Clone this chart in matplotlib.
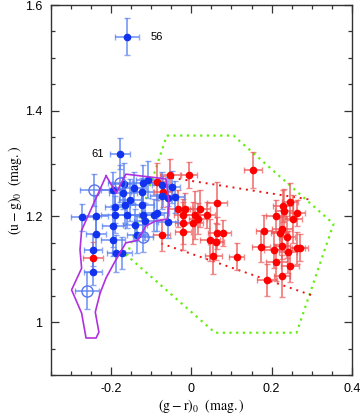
import matplotlib
matplotlib.use("Agg")
import matplotlib.pyplot as plt
from matplotlib.ticker import MultipleLocator

plt.rcParams['mathtext.fontset'] = 'stix'

# Blue filled points
bx = [-0.160, -0.178, -0.272, -0.237, -0.237, -0.245, -0.194, -0.190, -0.190, -0.194, -0.194, -0.187,
      -0.173, -0.168, -0.169, -0.165, -0.161, -0.153, -0.140, -0.136, -0.143, -0.123, -0.119, -0.123,
      -0.119, -0.115, -0.093, -0.107, -0.074, -0.049, -0.057, -0.041, -0.086, -0.057, -0.074, -0.245]
by = [1.540, 1.319, 1.198, 1.201, 1.167, 1.095, 1.250, 1.218, 1.203, 1.182, 1.155, 1.130,
      1.131, 1.261, 1.244, 1.222, 1.203, 1.231, 1.184, 1.165, 1.254, 1.247, 1.263, 1.222,
      1.203, 1.191, 1.203, 1.269, 1.259, 1.256, 1.234, 1.237, 1.207, 1.190, 1.239, 1.137]
bxerr = [0.030, 0.025, 0.028, 0.030, 0.025, 0.022, 0.030, 0.025, 0.035, 0.028, 0.030, 0.022,
         0.025, 0.030, 0.035, 0.025, 0.030, 0.028, 0.030, 0.025, 0.030, 0.028, 0.025, 0.030,
         0.035, 0.028, 0.025, 0.030, 0.025, 0.020, 0.025, 0.022, 0.030, 0.025, 0.028, 0.022]
byerr = [0.035, 0.030, 0.025, 0.040, 0.030, 0.025, 0.035, 0.030, 0.035, 0.040, 0.030, 0.035,
         0.030, 0.040, 0.030, 0.035, 0.025, 0.040, 0.030, 0.035, 0.030, 0.025, 0.035, 0.030,
         0.040, 0.035, 0.030, 0.035, 0.025, 0.030, 0.040, 0.030, 0.035, 0.030, 0.025, 0.030]

# Blue open circles
ox = [-0.241, -0.177, -0.121, -0.260]
oy = [1.250, 1.263, 1.162, 1.059]
oxerr = [0.035, 0.030, 0.025, 0.030]
oyerr = [0.030, 0.035, 0.030, 0.035]

# Red points
rx = [-0.244, -0.053, -0.005, -0.086, -0.070, 0.154, 0.063, -0.016, 0.022, -0.020, 0.009, 0.038,
      0.017, 0.005, -0.020, 0.063, 0.078, 0.047, 0.062, 0.055, 0.113, -0.074, -0.032, -0.020,
      0.246, 0.229, 0.231, 0.264, 0.211, 0.254, 0.181, 0.225, 0.221, 0.239, 0.173, 0.206,
      0.225, 0.241, 0.264, 0.270, 0.212, 0.246, 0.225, 0.189]
ry = [1.121, 1.278, 1.278, 1.266, 1.247, 1.288, 1.225, 1.215, 1.215, 1.203, 1.203, 1.203,
      1.196, 1.187, 1.171, 1.168, 1.169, 1.155, 1.152, 1.125, 1.124, 1.165, 1.215, 1.187,
      1.228, 1.220, 1.211, 1.206, 1.201, 1.195, 1.173, 1.177, 1.169, 1.161, 1.143, 1.137,
      1.145, 1.133, 1.140, 1.141, 1.113, 1.106, 1.087, 1.080]
rxerr = [0.025, 0.025, 0.020, 0.020, 0.022, 0.022, 0.025, 0.020, 0.025, 0.022, 0.025, 0.020,
         0.022, 0.025, 0.020, 0.022, 0.020, 0.025, 0.020, 0.022, 0.018, 0.022, 0.025, 0.020,
         0.020, 0.025, 0.022, 0.020, 0.025, 0.022, 0.020, 0.025, 0.022, 0.020, 0.022, 0.025,
         0.020, 0.022, 0.018, 0.020, 0.025, 0.022, 0.020, 0.025]
ryerr = [0.030, 0.030, 0.025, 0.035, 0.030, 0.034, 0.040, 0.030, 0.035, 0.030, 0.045, 0.025,
         0.030, 0.040, 0.035, 0.030, 0.025, 0.040, 0.035, 0.033, 0.025, 0.030, 0.035, 0.040,
         0.035, 0.030, 0.040, 0.025, 0.030, 0.045, 0.030, 0.035, 0.030, 0.040, 0.030, 0.035,
         0.025, 0.040, 0.030, 0.025, 0.035, 0.030, 0.040, 0.030]

# Purple polygon
px = [-0.212, -0.187, -0.163, -0.063, -0.055, -0.060, -0.090, -0.113, -0.133, -0.163, -0.192,
      -0.212, -0.227, -0.239, -0.230, -0.237, -0.262, -0.273, -0.298, -0.273, -0.277, -0.273, -0.212]
py = [1.277, 1.244, 1.280, 1.271, 1.222, 1.195, 1.191, 1.182, 1.155, 1.150, 1.112,
      1.084, 1.055, 1.019, 0.981, 0.970, 0.970, 1.017, 1.061, 1.102, 1.137, 1.174, 1.277]

# Green dotted polygon
gx = [-0.061, 0.105, 0.354, 0.262, 0.059, -0.160, -0.061]
gy = [1.353, 1.353, 1.186, 0.980, 0.980, 1.126, 1.353]

# Red dotted lines
rl1x = [-0.048, 0.303]
rl1y = [1.273, 1.231]
rl2x = [-0.075, 0.303]
rl2y = [1.149, 1.050]

labels = [("56", -0.160, 1.540), ("61", -0.178, 1.319)]

fig = plt.figure(figsize=(3.6, 4.17), dpi=100)
ax = fig.add_axes([0.1408, 0.1007, 0.8370, 0.8873])

ax.plot(gx, gy, linestyle=(0, (1, 2)), color='#66ee11', lw=1.6, zorder=1)
ax.plot(rl1x, rl1y, linestyle=(0, (1, 2.5)), color='#ee1111', lw=1.4, zorder=1)
ax.plot(rl2x, rl2y, linestyle=(0, (1, 2.5)), color='#ee1111', lw=1.4, zorder=1)

ax.errorbar(rx, ry, xerr=rxerr, yerr=ryerr, fmt='o', color='#ff0000', ms=4.5,
            ecolor=(0.93, 0.35, 0.35, 0.7), elinewidth=1.4, capsize=2.5, capthick=1.0, zorder=3)
ax.errorbar(bx, by, xerr=bxerr, yerr=byerr, fmt='o', color='#1133ee', ms=4.5,
            ecolor=(0.35, 0.5, 0.95, 0.7), elinewidth=1.4, capsize=2.5, capthick=1.0, zorder=3)
ax.errorbar(ox, oy, xerr=oxerr, yerr=oyerr, fmt='o', mfc='none', mec='#5577ee', mew=1.0, ms=8,
            ecolor=(0.35, 0.5, 0.95, 0.7), elinewidth=1.4, capsize=2.5, capthick=1.0, zorder=3)

ax.plot(px, py, color='#b030e0', lw=1.2, zorder=4)

ax.text(labels[0][1] + 0.058, labels[0][2], labels[0][0], fontsize=8, va='center', ha='left',
        family='Liberation Sans')
ax.text(labels[1][1] - 0.040, labels[1][2], labels[1][0], fontsize=8, va='center', ha='right',
        family='Liberation Sans')

ax.set_xlim(-0.35, 0.4)
ax.set_ylim(0.9, 1.6)
ax.xaxis.set_major_locator(MultipleLocator(0.2))
ax.xaxis.set_minor_locator(MultipleLocator(0.05))
ax.yaxis.set_major_locator(MultipleLocator(0.2))
ax.yaxis.set_minor_locator(MultipleLocator(0.05))
ax.set_xticks([-0.2, 0, 0.2, 0.4])
ax.set_xticklabels(['-0.2', '0', '0.2', '0.4'])
ax.set_yticks([1.0, 1.2, 1.4, 1.6])
ax.set_yticklabels(['1', '1.2', '1.4', '1.6'])
ax.tick_params(which='both', direction='in', top=True, right=True, colors='#333333',
               labelcolor='black', labelsize=9, width=0.9)
ax.tick_params(which='major', length=6, pad=6)
ax.tick_params(which='minor', length=3)
for lab in ax.get_xticklabels() + ax.get_yticklabels():
    lab.set_family('Liberation Sans')
for s in ax.spines.values():
    s.set_linewidth(1.0)
    s.set_color('#333333')

ax.set_xlabel(r'$\mathrm{(g-r)_0\ \ (mag.)}$', fontsize=10, labelpad=1)
ax.set_ylabel(r'$\mathrm{(u-g)_0\ \ (mag.)}$', fontsize=10, labelpad=1)

fig.savefig('out.png', dpi=100)
